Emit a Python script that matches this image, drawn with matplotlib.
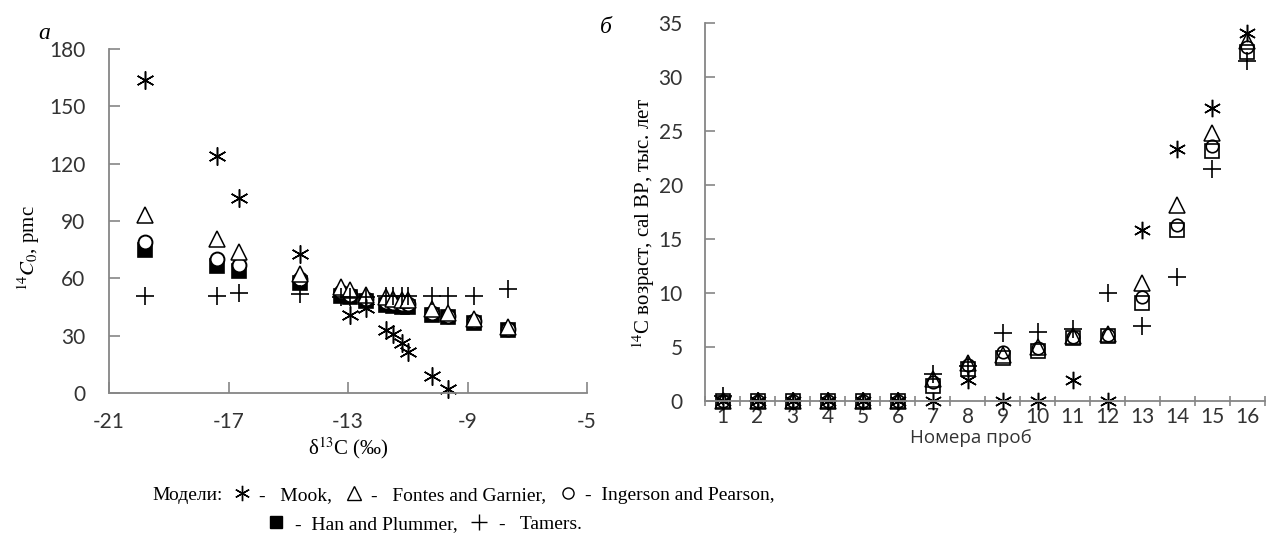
import numpy as np
import matplotlib
matplotlib.use('Agg')
import matplotlib.pyplot as plt
from matplotlib.lines import Line2D

plt.rcParams['mathtext.fontset'] = 'stix'
plt.rcParams['axes.unicode_minus'] = False
plt.rcParams['font.family'] = ['Lato', 'DejaVu Sans']

# --- панель а: 14C0 (pmc) от δ13C ---
d13c = [-19.8, -17.4, -16.65, -14.6, -13.25, -12.95, -12.4, -11.72, -11.5,
        -11.2, -11.0, -10.2, -9.64, -8.8, -7.64]
mook_pmc = [164, 124, 102, 72.5, np.nan, 41, 44.5, 33, 31, 26, 21.5, 9, 2,
            np.nan, np.nan]
fontes_pmc = [93, 80.5, 74, 62, 55.5, 54, 51.5, 50, 49, 48.5, 48.5, 44, 42,
              38.5, 34.5]
ingerson_pmc = [79, 70, 67, 59.5, 53, 51.5, 49, 47.5, 47, 46.5, 46.5, 42,
                40.5, 37.5, 33.5]
han_pmc = [75, 66.5, 64, 57.5, 51, 50, 48, 46, 45.5, 45, 45, 41, 39.5, 36.5, 33]
tamers_pmc = [51, 50.5, 52.5, 52, 50, 50, 50, 50.5, 50.5, 51, 51, 50.5, 50.5,
              51, 54.5]

# --- панель б: 14C возраст (тыс. лет) по номерам проб ---
samples = list(range(1, 17))
mook_age = [0, 0, 0, 0, 0, 0, 0, 1.9, 0, 0, 1.9, 0, 15.8, 23.3, 27.1, 34.1]
fontes_age = [0, 0, 0, 0, 0, 0, 2.0, 3.5, 4.3, 5.0, 6.0, 6.2, 10.9, 18.1, 24.8, 33.3]
ingerson_age = [0, 0, 0, 0, 0, 0, 1.8, 3.3, 4.5, 4.9, 5.9, 6.1, 9.6, 16.3, 23.6, 32.8]
han_age = [0, 0, 0, 0, 0, 0, 1.4, 3.0, 4.0, 4.6, 5.8, 6.0, 9.1, 15.8, 23.1, 32.3]
tamers_age = [0.5, 0, 0, 0, 0, 0, 2.5, 3.2, 6.3, 6.4, 6.7, 10.0, 6.9, 11.5, 21.5, 31.5]

SERIF = 'Liberation Serif'
AX_COL = '#868686'
TXT_COL = '#333333'
ASTER = (6, 2, 0)

fig = plt.figure(figsize=(12.66, 5.56), dpi=100)
ax1 = fig.add_axes([0.0861, 0.2932, 0.3776, 0.6187])
ax2 = fig.add_axes([0.5569, 0.2788, 0.4423, 0.6799])

for ax in (ax1, ax2):
    for s in ('top', 'right'):
        ax.spines[s].set_visible(False)
    for s in ('left', 'bottom'):
        ax.spines[s].set_color(AX_COL)
        ax.spines[s].set_linewidth(1.3)

# панель а
kw = dict(ls='none', mec='black', clip_on=False)
ax1.plot(d13c, han_pmc, marker='s', ms=10, mfc='black', mew=1.2, **kw)
ax1.plot(d13c, ingerson_pmc, marker='o', ms=10, mfc='white', mew=1.4, **kw)
ax1.plot(d13c, fontes_pmc, marker='^', ms=12, mfc='white', mew=1.1, **kw)
ax1.plot(d13c, mook_pmc, marker=ASTER, ms=13, mew=1.1, **kw)
ax1.plot(d13c, tamers_pmc, marker='+', ms=13, mew=1.2, **kw)

ax1.set_xlim(-21, -5)
ax1.set_ylim(0, 180)
ax1.set_xticks(range(-21, -4, 4))
ax1.set_yticks(range(0, 181, 30))
ax1.tick_params(direction='in', length=8, width=1.2, color=AX_COL,
                labelsize=15, labelcolor=TXT_COL, pad=17)
ax1.tick_params(axis='x', pad=14)
ax1.set_xlabel(r'δ$^{13}$C (‰)', fontsize=15, family=SERIF)
ax1.xaxis.set_label_coords(0.5, -0.122)
ax1.set_ylabel(r'$^{14}C_0$, pmc', fontsize=15, family=SERIF)
ax1.yaxis.set_label_coords(-0.14, 0.42)

# панель б
ax2.plot(samples, han_age, marker='s', ms=9.5, mfc='none', mew=1.2, **kw)
ax2.plot(samples, ingerson_age, marker='o', ms=9, mfc='none', mew=1.2, **kw)
ax2.plot(samples, fontes_age, marker='^', ms=11, mfc='none', mew=1.1, **kw)
ax2.plot(samples, mook_age, marker=ASTER, ms=12.5, mew=1.1, **kw)
ax2.plot(samples, tamers_age, marker='+', ms=12.5, mew=1.2, **kw)

ax2.set_xlim(0.5, 16.5)
ax2.set_ylim(0, 35)
ax2.set_yticks(range(0, 36, 5))
ax2.set_xticks(samples)
ax2.set_xticks(np.arange(0.5, 17, 1), minor=True)
ax2.tick_params(axis='y', direction='in', length=7, width=1.2, color=AX_COL,
                labelsize=15, labelcolor=TXT_COL, pad=16)
ax2.tick_params(axis='x', which='major', length=0, labelsize=15,
                labelcolor=TXT_COL, pad=4)
ax2.tick_params(axis='x', which='minor', direction='inout', length=7,
                width=1.2, color=AX_COL)
ax2.set_xlabel('Номера проб', fontsize=13.5, family=['Open Sans', 'DejaVu Sans'],
               color=TXT_COL)
ax2.xaxis.set_label_coords(0.475, -0.075)
ax2.set_ylabel(r'$^{14}$C возраст, cal BP, тыс. лет', fontsize=15, family=SERIF)
ax2.yaxis.set_label_coords(-0.085, 0.47)

# буквы панелей
fig.text(0.030, 0.93, 'а', fontsize=17, family=SERIF, style='italic')
fig.text(0.474, 0.94, 'б', fontsize=17, family=SERIF, style='italic')

# подпись моделей
def h(marker, ms, fill='none'):
    return Line2D([], [], ls='none', marker=marker, ms=ms, mec='black',
                  mfc=fill, mew=1.0)

lprop = dict(family=SERIF, size=14)
fig.text(152 / 1266, 1 - 495 / 556, 'Модели:', fontsize=14, family=SERIF,
         va='center')
fig.legend(handles=[h(ASTER, 11), h('^', 10), h('o', 8)],
           labels=['-   Mook,', '-   Fontes and Garnier,', '-  Ingerson and Pearson,'],
           ncol=3, loc='center left', bbox_to_anchor=(232 / 1266, 1 - 495 / 556),
           frameon=False, prop=lprop, handlelength=1.0, handletextpad=0.4,
           columnspacing=0.6, borderpad=0, borderaxespad=0)
fig.legend(handles=[h('s', 9, 'black'), h('+', 12)],
           labels=['-  Han and Plummer,', '-   Tamers.'],
           ncol=2, loc='center left', bbox_to_anchor=(266 / 1266, 1 - 524 / 556),
           frameon=False, prop=lprop, handlelength=1.0, handletextpad=0.5,
           columnspacing=0.6, borderpad=0, borderaxespad=0)

fig.savefig('out.png', dpi=100)
